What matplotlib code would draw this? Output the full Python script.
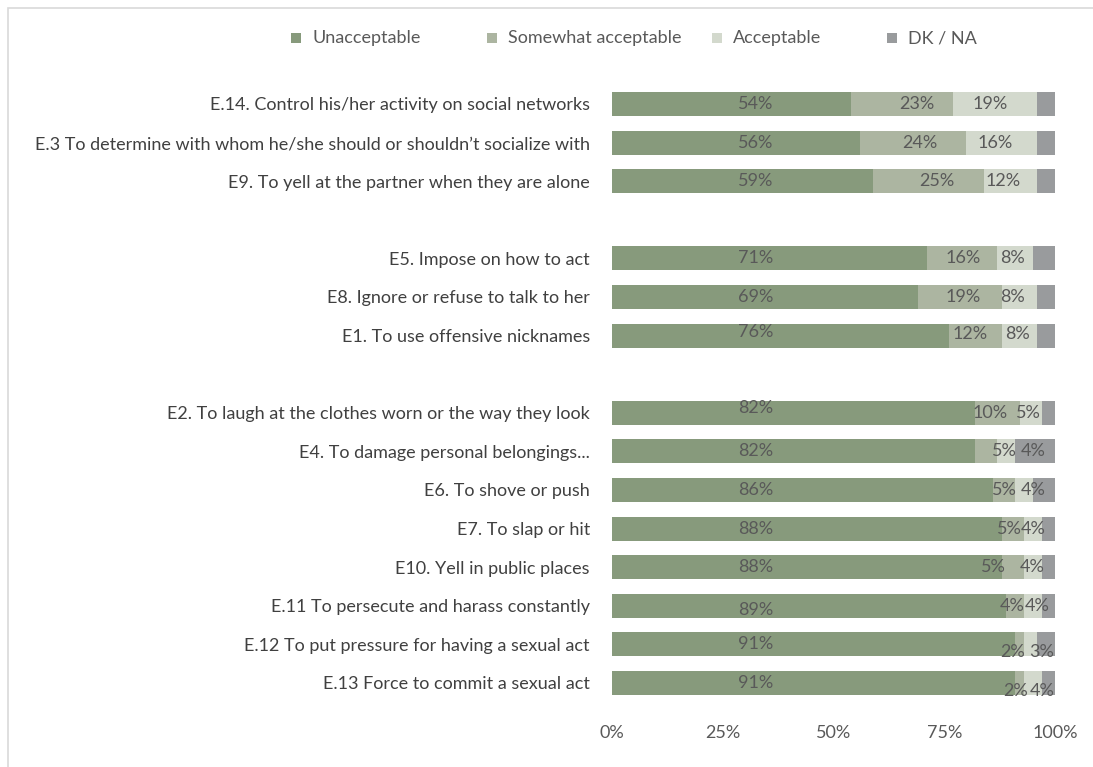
import matplotlib
matplotlib.use("Agg")
import matplotlib.pyplot as plt
from matplotlib.patches import Rectangle
from matplotlib.transforms import ScaledTranslation

plt.rcParams['font.family'] = ['Lato', 'DejaVu Sans']

items = [
    "E.14. Control his/her activity on social networks",
    "E.3 To determine with whom he/she should or shouldn\u2019t socialize with",
    "E9. To yell at the partner when they are alone",
    "E5. Impose on how to act",
    "E8. Ignore or refuse to talk to her",
    "E1. To use offensive nicknames",
    "E2. To laugh at the clothes worn or the way they look",
    "E4. To damage personal belongings...",
    "E6. To shove or push",
    "E7. To slap or hit",
    "E10. Yell in public places",
    "E.11 To persecute and harass constantly",
    "E.12 To put pressure for having a sexual act",
    "E.13 Force to commit a sexual act",
]
# row slots, leaving a blank slot between the three groups
slots = [0, 1, 2, 4, 5, 6, 8, 9, 10, 11, 12, 13, 14, 15]

unacceptable = [54, 56, 59, 71, 69, 76, 82, 82, 86, 88, 88, 89, 91, 91]
somewhat = [23, 24, 25, 16, 19, 12, 10, 5, 5, 5, 5, 4, 2, 2]
acceptable = [19, 16, 12, 8, 8, 8, 5, 4, 4, 4, 4, 4, 3, 4]
dk_na = [4, 4, 4, 5, 4, 4, 3, 9, 5, 3, 3, 3, 4, 3]

series_names = ["Unacceptable", "Somewhat acceptable", "Acceptable", "DK / NA"]
colors = ["#879A7C", "#ACB5A1", "#D3D9CD", "#999B9D"]
xticks = [0, 25, 50, 75, 100]

# where the value labels sit (x in %, y shift in row units)
unacc_label_x = 32.5
somewhat_label_x = [68.8, 69.5, 73.3, 79.2, 79.2, 80.8, 85.3, 88.5, 88.5, 89.8, 86.0, 90.3, 90.5, 91.0]
accept_label_x = [85.3, 86.5, 88.3, 90.5, 90.5, 91.6, 93.9, 95.0, 95.0, 95.0, 94.8, 95.9, 97.0, 97.0]
unacc_label_dy = [0, 0, 0, 0, 0, -0.1, -0.12, 0, 0, 0, 0, 0.12, 0, 0]
small_label_dy = [0, 0, 0, 0, 0, -0.05, 0, 0, 0, 0, 0, 0, 0.2, 0.2]

W, H = 1093, 767
fig = plt.figure(figsize=(W / 100, H / 100), dpi=100)

# light frame around the chart area
fig.patches.append(Rectangle((8 / W, -0.05), 1.2, 1 - 8 / H + 0.05,
                             transform=fig.transFigure, fill=False,
                             edgecolor="#D9D9D9", linewidth=1.2))

left, right = 612 / W, 1055 / W
top, bottom = 1 - 84.7 / H, 1 - 702.3 / H
ax = fig.add_axes([left, bottom, right - left, top - bottom])

label_color = "#595959"
fs = 13
series = [unacceptable, somewhat, acceptable, dk_na]
starts = [0] * len(items)
for vals, col in zip(series, colors):
    ax.barh(slots, vals, left=starts, height=0.62, color=col, linewidth=0)
    starts = [s + v for s, v in zip(starts, vals)]

# value labels
for i, y in enumerate(slots):
    ax.text(unacc_label_x, y + unacc_label_dy[i], f"{unacceptable[i]}%",
            ha="center", va="center", fontsize=fs, color=label_color)
    ax.text(somewhat_label_x[i], y + small_label_dy[i], f"{somewhat[i]}%",
            ha="center", va="center", fontsize=fs, color=label_color)
    ax.text(accept_label_x[i], y + small_label_dy[i], f"{acceptable[i]}%",
            ha="center", va="center", fontsize=fs, color=label_color)

ax.set_xlim(0, 100)
ax.set_ylim(15.5, -0.5)
ax.set_xticks(xticks)
ax.set_xticklabels([f"{t}%" for t in xticks], fontsize=fs, color=label_color)
shift = ScaledTranslation(-4 / 100, 0, fig.dpi_scale_trans)
for lab in ax.get_xticklabels():
    lab.set_transform(lab.get_transform() + shift)
ax.set_yticks(slots)
ax.set_yticklabels(items, fontsize=fs, color="#404040")
ax.tick_params(axis="x", length=0, pad=16)
ax.tick_params(axis="y", length=0, pad=16)
for s in ax.spines.values():
    s.set_visible(False)

# legend row across the top
legend_x = [291, 487, 712, 887]
legend_y = 1 - 38 / H
sq = 10
for name, col, px in zip(series_names, colors, legend_x):
    fig.patches.append(Rectangle((px / W, legend_y - sq / 2 / H), sq / W, sq / H,
                                 transform=fig.transFigure, facecolor=col,
                                 edgecolor="none"))
    fig.text((px + sq + 11) / W, legend_y, name, ha="left", va="center",
             fontsize=fs, color=label_color)

fig.savefig("out.png", dpi=100, facecolor="white")
